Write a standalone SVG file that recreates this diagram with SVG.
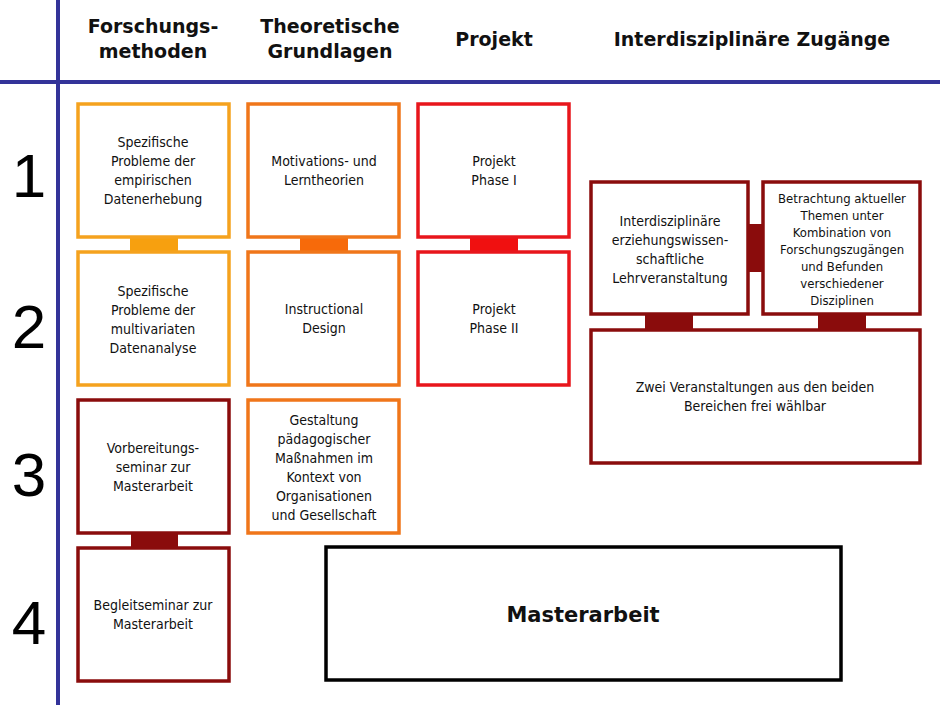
<svg xmlns="http://www.w3.org/2000/svg" width="940" height="705" viewBox="0 0 940 705">
<style>
.b{fill:#fff;stroke-width:3.5}
.t{font-family:"DejaVu Sans Condensed","DejaVu Sans",sans-serif;font-size:14px;text-anchor:middle;fill:#111}
.h{font-family:"DejaVu Sans","Liberation Sans",sans-serif;font-weight:bold;font-size:19px;text-anchor:middle;fill:#111}
.n{font-family:"Liberation Sans",sans-serif;font-size:62px;text-anchor:middle;fill:#000}
.o1{stroke:#F5A21E}.o2{stroke:#F0761A}.r{stroke:#E8161C}.d{stroke:#8A0C0C}
</style>
<rect width="940" height="705" fill="#fff"/>
<g id="axes">
<line x1="58" y1="0" x2="58" y2="705" stroke="#333399" stroke-width="4"/>
<line x1="0" y1="82" x2="940" y2="82" stroke="#333399" stroke-width="4"/>
</g>
<g id="headers">
<text class="h" x="153" y="33">Forschungs-</text><text class="h" x="153" y="58">methoden</text>
<text class="h" x="330" y="33">Theoretische</text><text class="h" x="330" y="58">Grundlagen</text>
<text class="h" x="494" y="46">Projekt</text>
<text class="h" x="752" y="46">Interdisziplinäre Zugänge</text>
</g>
<g id="rows">
<text class="n" x="29" y="197">1</text><text class="n" x="29" y="348">2</text>
<text class="n" x="29" y="496">3</text><text class="n" x="29" y="644">4</text>
</g>
<g id="connectors">
<rect x="130" y="236" width="48" height="16" fill="#F7A00F"/>
<rect x="300" y="236" width="48" height="16" fill="#F76A0A"/>
<rect x="470" y="236" width="48" height="16" fill="#F01010"/>
<rect x="131" y="532" width="47" height="16" fill="#8A0C0C"/>
<rect x="748" y="224" width="15" height="48" fill="#8A0C0C"/>
<rect x="645" y="314" width="48" height="16" fill="#8A0C0C"/>
<rect x="818" y="314" width="48" height="16" fill="#8A0C0C"/>
</g>
<g id="n1"><rect class="b o1" x="78" y="104" width="151" height="133"/>
<text class="t" x="153" y="147">Spezifische</text><text class="t" x="153" y="166">Probleme der</text><text class="t" x="153" y="185">empirischen</text><text class="t" x="153" y="204">Datenerhebung</text></g>
<g id="n2"><rect class="b o1" x="78" y="252" width="151" height="133"/>
<text class="t" x="153" y="296">Spezifische</text><text class="t" x="153" y="315">Probleme der</text><text class="t" x="153" y="334">multivariaten</text><text class="t" x="153" y="353">Datenanalyse</text></g>
<g id="n3"><rect class="b d" x="78" y="400" width="151" height="133"/>
<text class="t" x="153" y="453">Vorbereitungs-</text><text class="t" x="153" y="472">seminar zur</text><text class="t" x="153" y="491">Masterarbeit</text></g>
<g id="n4"><rect class="b d" x="78" y="548" width="151" height="133"/>
<text class="t" x="153" y="610">Begleitseminar zur</text><text class="t" x="153" y="629">Masterarbeit</text></g>
<g id="n5"><rect class="b o2" x="248" y="104" width="151" height="133"/>
<text class="t" x="324" y="166">Motivations- und</text><text class="t" x="324" y="185">Lerntheorien</text></g>
<g id="n6"><rect class="b o2" x="248" y="252" width="151" height="133"/>
<text class="t" x="324" y="314">Instructional</text><text class="t" x="324" y="333">Design</text></g>
<g id="n7"><rect class="b o2" x="248" y="400" width="151" height="133"/>
<text class="t" x="324" y="425">Gestaltung</text><text class="t" x="324" y="444">pädagogischer</text><text class="t" x="324" y="463">Maßnahmen im</text><text class="t" x="324" y="482">Kontext von</text><text class="t" x="324" y="501">Organisationen</text><text class="t" x="324" y="520">und Gesellschaft</text></g>
<g id="n8"><rect class="b r" x="418" y="104" width="151" height="133"/>
<text class="t" x="494" y="166">Projekt</text><text class="t" x="494" y="185">Phase I</text></g>
<g id="n9"><rect class="b r" x="418" y="252" width="151" height="133"/>
<text class="t" x="494" y="314">Projekt</text><text class="t" x="494" y="333">Phase II</text></g>
<g id="n10"><rect class="b d" x="591" y="182" width="157" height="132"/>
<text class="t" x="670" y="226">Interdisziplinäre</text><text class="t" x="670" y="245">erziehungswissen-</text><text class="t" x="670" y="264">schaftliche</text><text class="t" x="670" y="283">Lehrveranstaltung</text></g>
<g id="n11"><rect class="b d" x="763" y="182" width="157" height="132"/>
<text class="t" x="842" y="203" style="font-size:13px">Betrachtung aktueller</text><text class="t" x="842" y="220" style="font-size:13px">Themen unter</text><text class="t" x="842" y="237" style="font-size:13px">Kombination von</text><text class="t" x="842" y="254" style="font-size:13px">Forschungszugängen</text><text class="t" x="842" y="271" style="font-size:13px">und Befunden</text><text class="t" x="842" y="288" style="font-size:13px">verschiedener</text><text class="t" x="842" y="305" style="font-size:13px">Disziplinen</text></g>
<g id="n12"><rect class="b d" x="591" y="330" width="329" height="133"/>
<text class="t" x="755" y="392">Zwei Veranstaltungen aus den beiden</text><text class="t" x="755" y="411">Bereichen frei wählbar</text></g>
<g id="n13"><rect class="b" stroke="#000" x="326" y="547" width="515" height="133"/>
<text class="h" x="583" y="622" style="font-size:21px">Masterarbeit</text></g>
</svg>
